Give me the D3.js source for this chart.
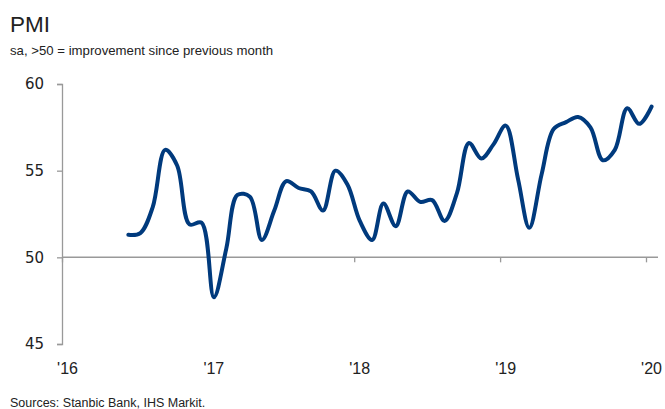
<!DOCTYPE html>
<html>
<head>
<meta charset="utf-8">
<script src="https://cdn.jsdelivr.net/npm/d3@7"></script>
<style>
  body { margin: 0; background: #fff; }
  svg { display: block; }
</style>
</head>
<body>
<div class="graphic"></div>
<script>
const W = 665, H = 409;

// monthly readings, Jun 2016 .. Jan 2020
const startMonth = [2016, 5];
const pmi = [
  51.3, 51.4, 52.9, 56.2, 55.3, 51.9, 52.0,
  47.7, 50.5, 53.6, 53.5, 51.0, 52.7, 54.4, 54.0, 53.8, 52.7, 55.0, 54.2,
  52.1, 51.0, 53.1, 51.8, 53.8, 53.2, 53.3, 52.1, 53.7, 56.6, 55.7, 56.5,
  57.6, 54.5, 51.7, 54.8, 57.4, 57.8, 58.1, 57.5, 55.6, 56.2, 58.6, 57.7,
  58.7
];
const yTicks = [45, 50, 55, 60];
const yearTicks = [2016, 2017, 2018, 2019, 2020];

const data = pmi.map((v, i) => ({
  date: new Date(Date.UTC(startMonth[0], startMonth[1] + i, 15)),
  value: v
}));

const x = d3.scaleUtc()
  .domain([new Date(Date.UTC(2016, 0, 1)), new Date(Date.UTC(2020, 0, 1))])
  .range([62, 646]);
const y = d3.scaleLinear().domain([45, 60]).range([344, 84]);

const svg = d3.select(".graphic")
  .append("svg")
  .attr("width", W)
  .attr("height", H);

svg.append("text")
  .attr("x", 10).attr("y", 32)
  .style("font-family", "Liberation Sans, Arial, sans-serif")
  .style("font-size", "22.5px")
  .style("fill", "#222")
  .text("PMI");

svg.append("text")
  .attr("x", 10).attr("y", 55)
  .style("font-family", "Liberation Sans, Arial, sans-serif")
  .style("font-size", "13.2px")
  .style("fill", "#222")
  .text("sa, >50 = improvement since previous month");

// y axis
const yAxis = svg.append("g")
  .attr("transform", "translate(62,0)")
  .call(d3.axisLeft(y).tickValues(yTicks).tickSize(5).tickPadding(13).tickSizeOuter(5));
yAxis.selectAll("path, line").attr("stroke", "#999").attr("stroke-width", 1.3);
yAxis.selectAll("text")
  .style("font-family", "DejaVu Sans, Verdana, sans-serif")
  .style("font-size", "15px")
  .style("fill", "#222");

// x axis on the 50 line
const xAxis = svg.append("g")
  .attr("transform", `translate(0,${y(50)})`)
  .call(d3.axisBottom(x)
    .tickValues(yearTicks.map(yr => new Date(Date.UTC(yr, 0, 1))))
    .tickSize(5)
    .tickSizeOuter(0)
    .tickFormat(d3.utcFormat("'%y")));
xAxis.select(".domain").remove();
xAxis.append("line")
  .attr("x1", 62).attr("x2", 658)
  .attr("stroke", "#999").attr("stroke-width", 1.5);
xAxis.selectAll(".tick line").attr("stroke", "#999").attr("stroke-width", 1.3);
xAxis.selectAll("text")
  .attr("x", 5)
  .attr("y", y(45) - y(50) + 19)
  .attr("dy", "0.71em")
  .style("font-family", "Liberation Sans, Arial, sans-serif")
  .style("font-size", "16px")
  .style("fill", "#222");

const line = d3.line()
  .x(d => x(d.date))
  .y(d => y(d.value))
  .curve(d3.curveCatmullRom.alpha(0.5));

svg.append("path")
  .datum(data)
  .attr("d", line)
  .attr("fill", "none")
  .attr("stroke", "#003a7d")
  .attr("stroke-width", 4)
  .attr("stroke-linecap", "round")
  .attr("stroke-linejoin", "round");

svg.append("text")
  .attr("x", 10).attr("y", 407)
  .style("font-family", "Liberation Sans, Arial, sans-serif")
  .style("font-size", "12.5px")
  .style("fill", "#222")
  .text("Sources: Stanbic Bank, IHS Markit.");
</script>
</body>
</html>
